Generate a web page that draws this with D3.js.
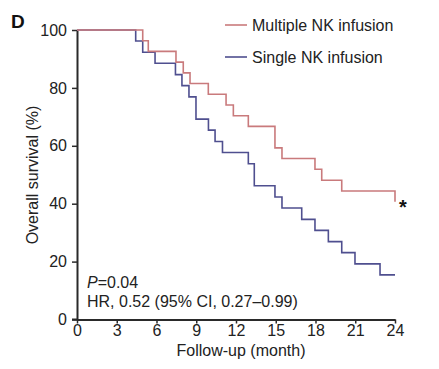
<!DOCTYPE html>
<html>
<head>
<meta charset="utf-8">
<script src="https://cdn.jsdelivr.net/npm/d3@7"></script>
<style>
  html, body { margin: 0; padding: 0; background: #ffffff; }
  svg { display: block; font-family: "Liberation Sans", Arial, sans-serif; }
</style>
</head>
<body>
<svg id="chart" width="439" height="369"></svg>
<script>
// ---- data ----
const seriesNames = ["Multiple NK infusion", "Single NK infusion"];
const multipleTimes = [0, 4.96, 5.38, 7.47, 8.02, 8.53, 9.91, 11.25, 11.8, 12.93, 14.94, 15.47, 17.96, 18.47, 19.98, 24];
const multipleSurv  = [100, 96.3, 92.6, 88.9, 85.2, 81.5, 77.8, 74.1, 70.4, 66.7, 59.3, 55.6, 51.9, 48.1, 44.4, 40.7];
const singleTimes = [0, 4.43, 4.96, 5.89, 7.43, 7.92, 8.45, 8.98, 9.92, 10.42, 10.98, 12.93, 13.38, 14.94, 15.47, 16.96, 17.96, 18.97, 19.98, 20.98, 22.87, 24];
const singleSurv  = [100, 96.2, 92.3, 88.5, 84.6, 80.8, 76.9, 69.2, 65.4, 61.5, 57.7, 53.8, 46.2, 42.3, 38.5, 34.6, 30.8, 26.9, 23.1, 19.2, 15.4, 15.4];
const xTicks = [0, 3, 6, 9, 12, 15, 18, 21, 24];
const yTicks = [0, 20, 40, 60, 80, 100];
const annotations = ["=0.04", "HR, 0.52 (95% CI, 0.27\u20130.99)"];

// ---- layout ----
const svg = d3.select("#chart");
const x = d3.scaleLinear().domain([0, 24]).range([77, 395]);
const y = d3.scaleLinear().domain([0, 100]).range([319.5, 30]);
const colors = ["#c97a7c", "#4f4f8f"];
const axisColor = "#2a2a2a";

// axes
const xAxis = svg.append("g").attr("transform", `translate(0,${y(0)})`)
  .call(d3.axisBottom(x).tickValues(xTicks).tickSize(4).tickSizeOuter(0).tickPadding(1));
const yAxis = svg.append("g").attr("transform", `translate(${x(0)},0)`)
  .call(d3.axisLeft(y).tickValues(yTicks).tickSize(5).tickSizeOuter(0).tickPadding(5));
[xAxis, yAxis].forEach(g => {
  g.select(".domain").attr("stroke", axisColor).attr("stroke-width", 2);
  g.selectAll(".tick line").attr("stroke", axisColor).attr("stroke-width", 1.5);
  g.selectAll(".tick text").attr("fill", "#222").attr("font-size", 16)
    .attr("font-family", "Liberation Sans, Arial, sans-serif");
});
// extend x-axis line slightly left like reference
svg.append("line").attr("x1", x(0) - 5).attr("x2", x(0)).attr("y1", y(0)).attr("y2", y(0))
  .attr("stroke", axisColor).attr("stroke-width", 2);

// curves
const line = d3.line().x(d => x(d[0])).y(d => y(d[1])).curve(d3.curveStepAfter);
const multipleData = multipleTimes.map((t, i) => [t, multipleSurv[i]]);
const singleData = singleTimes.map((t, i) => [t, singleSurv[i]]);
svg.append("path").datum(singleData).attr("d", line)
  .attr("fill", "none").attr("stroke", colors[1]).attr("stroke-width", 1.6);
svg.append("path").datum(multipleData).attr("d", line)
  .attr("fill", "none").attr("stroke", colors[0]).attr("stroke-width", 1.6);

// star marker
svg.append("text").attr("x", x(24) + 8).attr("y", y(multipleSurv[multipleSurv.length - 1]) + 12)
  .attr("text-anchor", "middle").attr("font-size", 20).attr("font-weight", "bold").attr("fill", "#111")
  .text("*");

// legend
seriesNames.forEach((name, i) => {
  const ly = 25 + i * 32;
  svg.append("line").attr("x1", 225).attr("x2", 247).attr("y1", ly).attr("y2", ly)
    .attr("stroke", colors[i]).attr("stroke-width", 1.6);
  svg.append("text").attr("x", 252).attr("y", ly + 5.5).attr("font-size", 16).attr("fill", "#222")
    .text(name);
});

// annotations
const pText = svg.append("text").attr("x", 87).attr("y", 288).attr("font-size", 16).attr("fill", "#222");
pText.append("tspan").attr("font-style", "italic").text("P");
pText.append("tspan").text(annotations[0]);
svg.append("text").attr("x", 87).attr("y", 307).attr("font-size", 16).attr("fill", "#222").text(annotations[1]);

// axis labels
svg.append("text").attr("x", 241).attr("y", 356).attr("text-anchor", "middle")
  .attr("font-size", 16).attr("fill", "#222").text("Follow-up (month)");
svg.append("text").attr("transform", "translate(38,175) rotate(-90)").attr("text-anchor", "middle")
  .attr("font-size", 16).attr("fill", "#222").text("Overall survival (%)");

// panel letter
svg.append("text").attr("x", 11).attr("y", 28).attr("font-size", 19).attr("font-weight", "bold")
  .attr("fill", "#111").text("D");
</script>
</body>
</html>
